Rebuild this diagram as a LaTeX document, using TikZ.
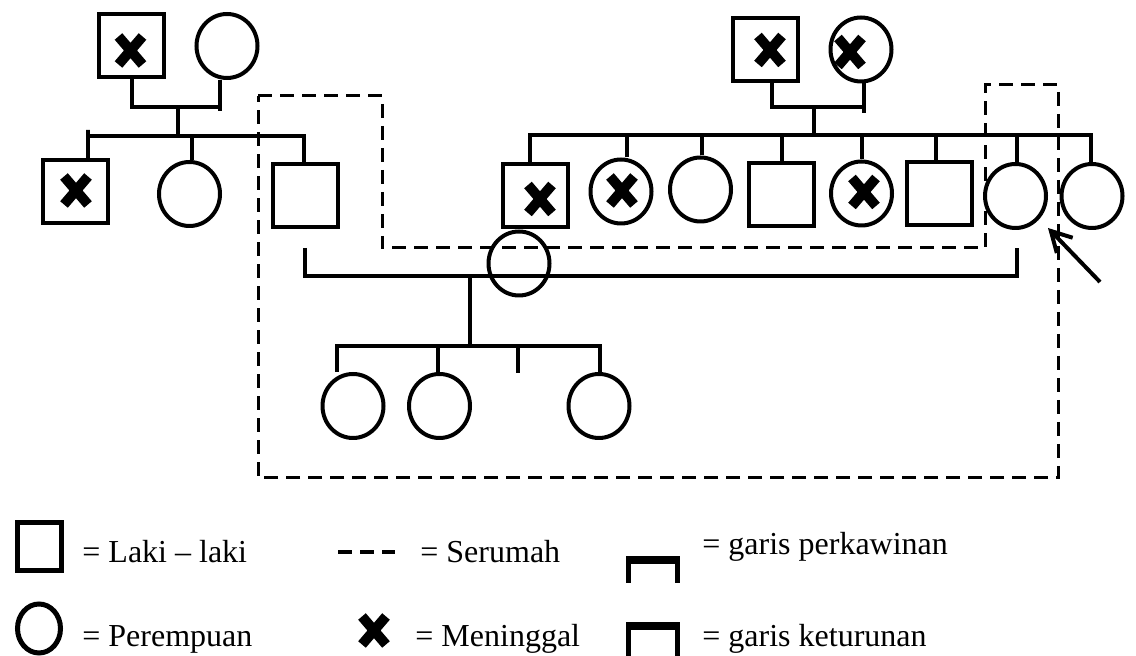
\documentclass[tikz,border=0pt]{standalone}
\usepackage{fontspec}
\setmainfont{Liberation Serif}
\usetikzlibrary{arrows.meta,shapes.geometric}

\tikzset{
  pria/.style={draw, rectangle, line width=2pt, minimum width=32.5pt, minimum height=31.5pt, inner sep=0pt},
  wanita/.style={draw, ellipse, line width=2pt, minimum width=30.5pt, minimum height=32pt, inner sep=0pt},
  garis/.style={line width=2pt},
  serumah/.style={line width=1.5pt, dash pattern=on 7pt off 4pt},
  ket/.style={anchor=base west, inner sep=0pt, font=\fontsize{16}{19}\selectfont},
  silang/.pic={\draw[line width=5pt] (-12,-14) -- (12,14) (-12,14) -- (12,-14);}
}

\begin{document}
\begin{tikzpicture}[x=0.5pt,y=-0.5pt]
\useasboundingbox (0,0) rectangle (1136,656);

% generasi 1, kiri
\node[pria] (kakekA) at (131.5,46) {};
\node[wanita] (nenekA) at (227,46) {};
\pic at (130.5,50.5) {silang};
\coordinate (nikahA) at (178,107);
\coordinate (turunA) at (178,136);
\draw[garis] ([xshift=-3.5pt]nenekA.south) -- ++(0,31);
\draw[garis] (kakekA.south) |- (nikahA) -| ([xshift=-3.5pt]nenekA.south);
\draw[garis] (nikahA) -- (turunA);

% generasi 2, kiri
\node[pria] (anakA1) at (75,191.5) {};
\node[wanita] (anakA2) at (189.5,194) {};
\node[pria] (anakA3) at (305,196) {};
\pic at (76,190.5) {silang};
\draw[garis] ([xshift=6.5pt]anakA1.north) -- ++(0,-28) |- (turunA);
\foreach \n/\s in {anakA2/1.25pt,anakA3/-0.5pt}
    \draw[garis] ([xshift=\s]\n.north) |- (turunA);

% generasi 1, kanan
\node[pria] (kakekB) at (765,49.5) {};
\node[wanita] (nenekB) at (861,49.5) {};
\pic at (770,50) {silang};
\pic at (850,52) {silang};
\coordinate (nikahB) at (814,107);
\coordinate (turunB) at (814,135);
\draw[garis] ([xshift=1.5pt]nenekB.south) -- ++(0,30);
\draw[garis] ([xshift=3.5pt]kakekB.south) |- (nikahB) -| ([xshift=1.5pt]nenekB.south);
\draw[garis] (nikahB) -- (turunB);

% generasi 2, kanan
\node[pria] (anakB1) at (535.5,195.5) {};
\node[wanita] (anakB2) at (621,191.5) {};
\node[wanita] (anakB3) at (700.5,189.5) {};
\node[pria] (anakB4) at (781,194.5) {};
\node[wanita] (anakB5) at (861.5,193.5) {};
\node[pria] (anakB6) at (939.5,193.5) {};
\node[wanita] (anakB7) at (1015.5,196) {};
\node[wanita] (anakB8) at (1092,196) {};
\pic at (540,199) {silang};
\pic at (622,190.5) {silang};
\pic at (864,192) {silang};
\foreach \n/\s in {anakB1/-2.75pt,anakB2/3pt,anakB3/0.75pt,anakB4/0.5pt,
                   anakB5/0.25pt,anakB6/-1.75pt,anakB7/0.75pt,anakB8/-0.5pt}
    \draw[garis] ([xshift=\s]\n.north) |- (turunB);

% perkawinan generasi 2
\node[wanita] (menantu) at (519,263.5) {};
\coordinate (nikahC) at (470,276);
\coordinate (turunC) at (470,346);
\draw[garis] ([yshift=-9.25pt]anakA3.south) |- (nikahC) -| ([xshift=0.75pt,yshift=-9pt]anakB7.south);
\draw[garis] (nikahC) -- (turunC);

% generasi 3
\node[wanita] (cucu1) at (353,406) {};
\node[wanita] (cucu2) at (439.5,406) {};
\node[wanita] (cucu3) at (599,406) {};
\coordinate (kosong) at (518,373);
\foreach \n/\s in {cucu1/-8pt,cucu2/-0.75pt,cucu3/0.5pt}
    \draw[garis] ([xshift=\s]\n.north) |- (turunC);
\draw[garis] (kosong) |- (turunC);

% serumah
\draw[serumah] (258,96) -- (382,96) -- (382,248) -- (985,248) -- (985,85)
    -- (1058,85) -- (1058,478) -- (258,478) -- cycle;

% penderita
\coordinate (panah) at (1100,282);
\draw[garis,-{Straight Barb[length=10pt,width=11pt]}] (panah) -- ([shift={(4.5pt,-4.25pt)}]anakB7.-45);

% keterangan
\node[draw, rectangle, line width=2.5pt, minimum width=22pt, minimum height=24pt] (legPria) at (39,547) {};
\node[draw, ellipse, line width=2.5pt, minimum width=21.5pt, minimum height=24.5pt, inner sep=0pt] (legWanita) at (39,628.5) {};
\draw[line width=2pt, dash pattern=on 7pt off 4pt] (338,552) -- (395,552);
\pic at (374,630.5) {silang};
\draw[line width=2.5pt] (628.5,583) |- (677.5,560) -- (677.5,583);
\draw[line width=4pt] (626,560) -- (680,560);
\draw[line width=2.5pt] (628.5,660) |- (677.5,626) -- (677.5,660);
\draw[line width=4pt] (626,626) -- (680,626);
\node[ket] (tLaki) at (82,563) {= Laki – laki};
\node[ket] (tSerumah) at (420,563) {= Serumah};
\node[ket] (tKawin) at (702,555) {= garis perkawinan};
\node[ket] (tPerempuan) at (82,647) {= Perempuan};
\node[ket] (tMati) at (415,647) {= Meninggal};
\node[ket] (tTurun) at (702,647) {= garis keturunan};
\end{tikzpicture}
\end{document}
